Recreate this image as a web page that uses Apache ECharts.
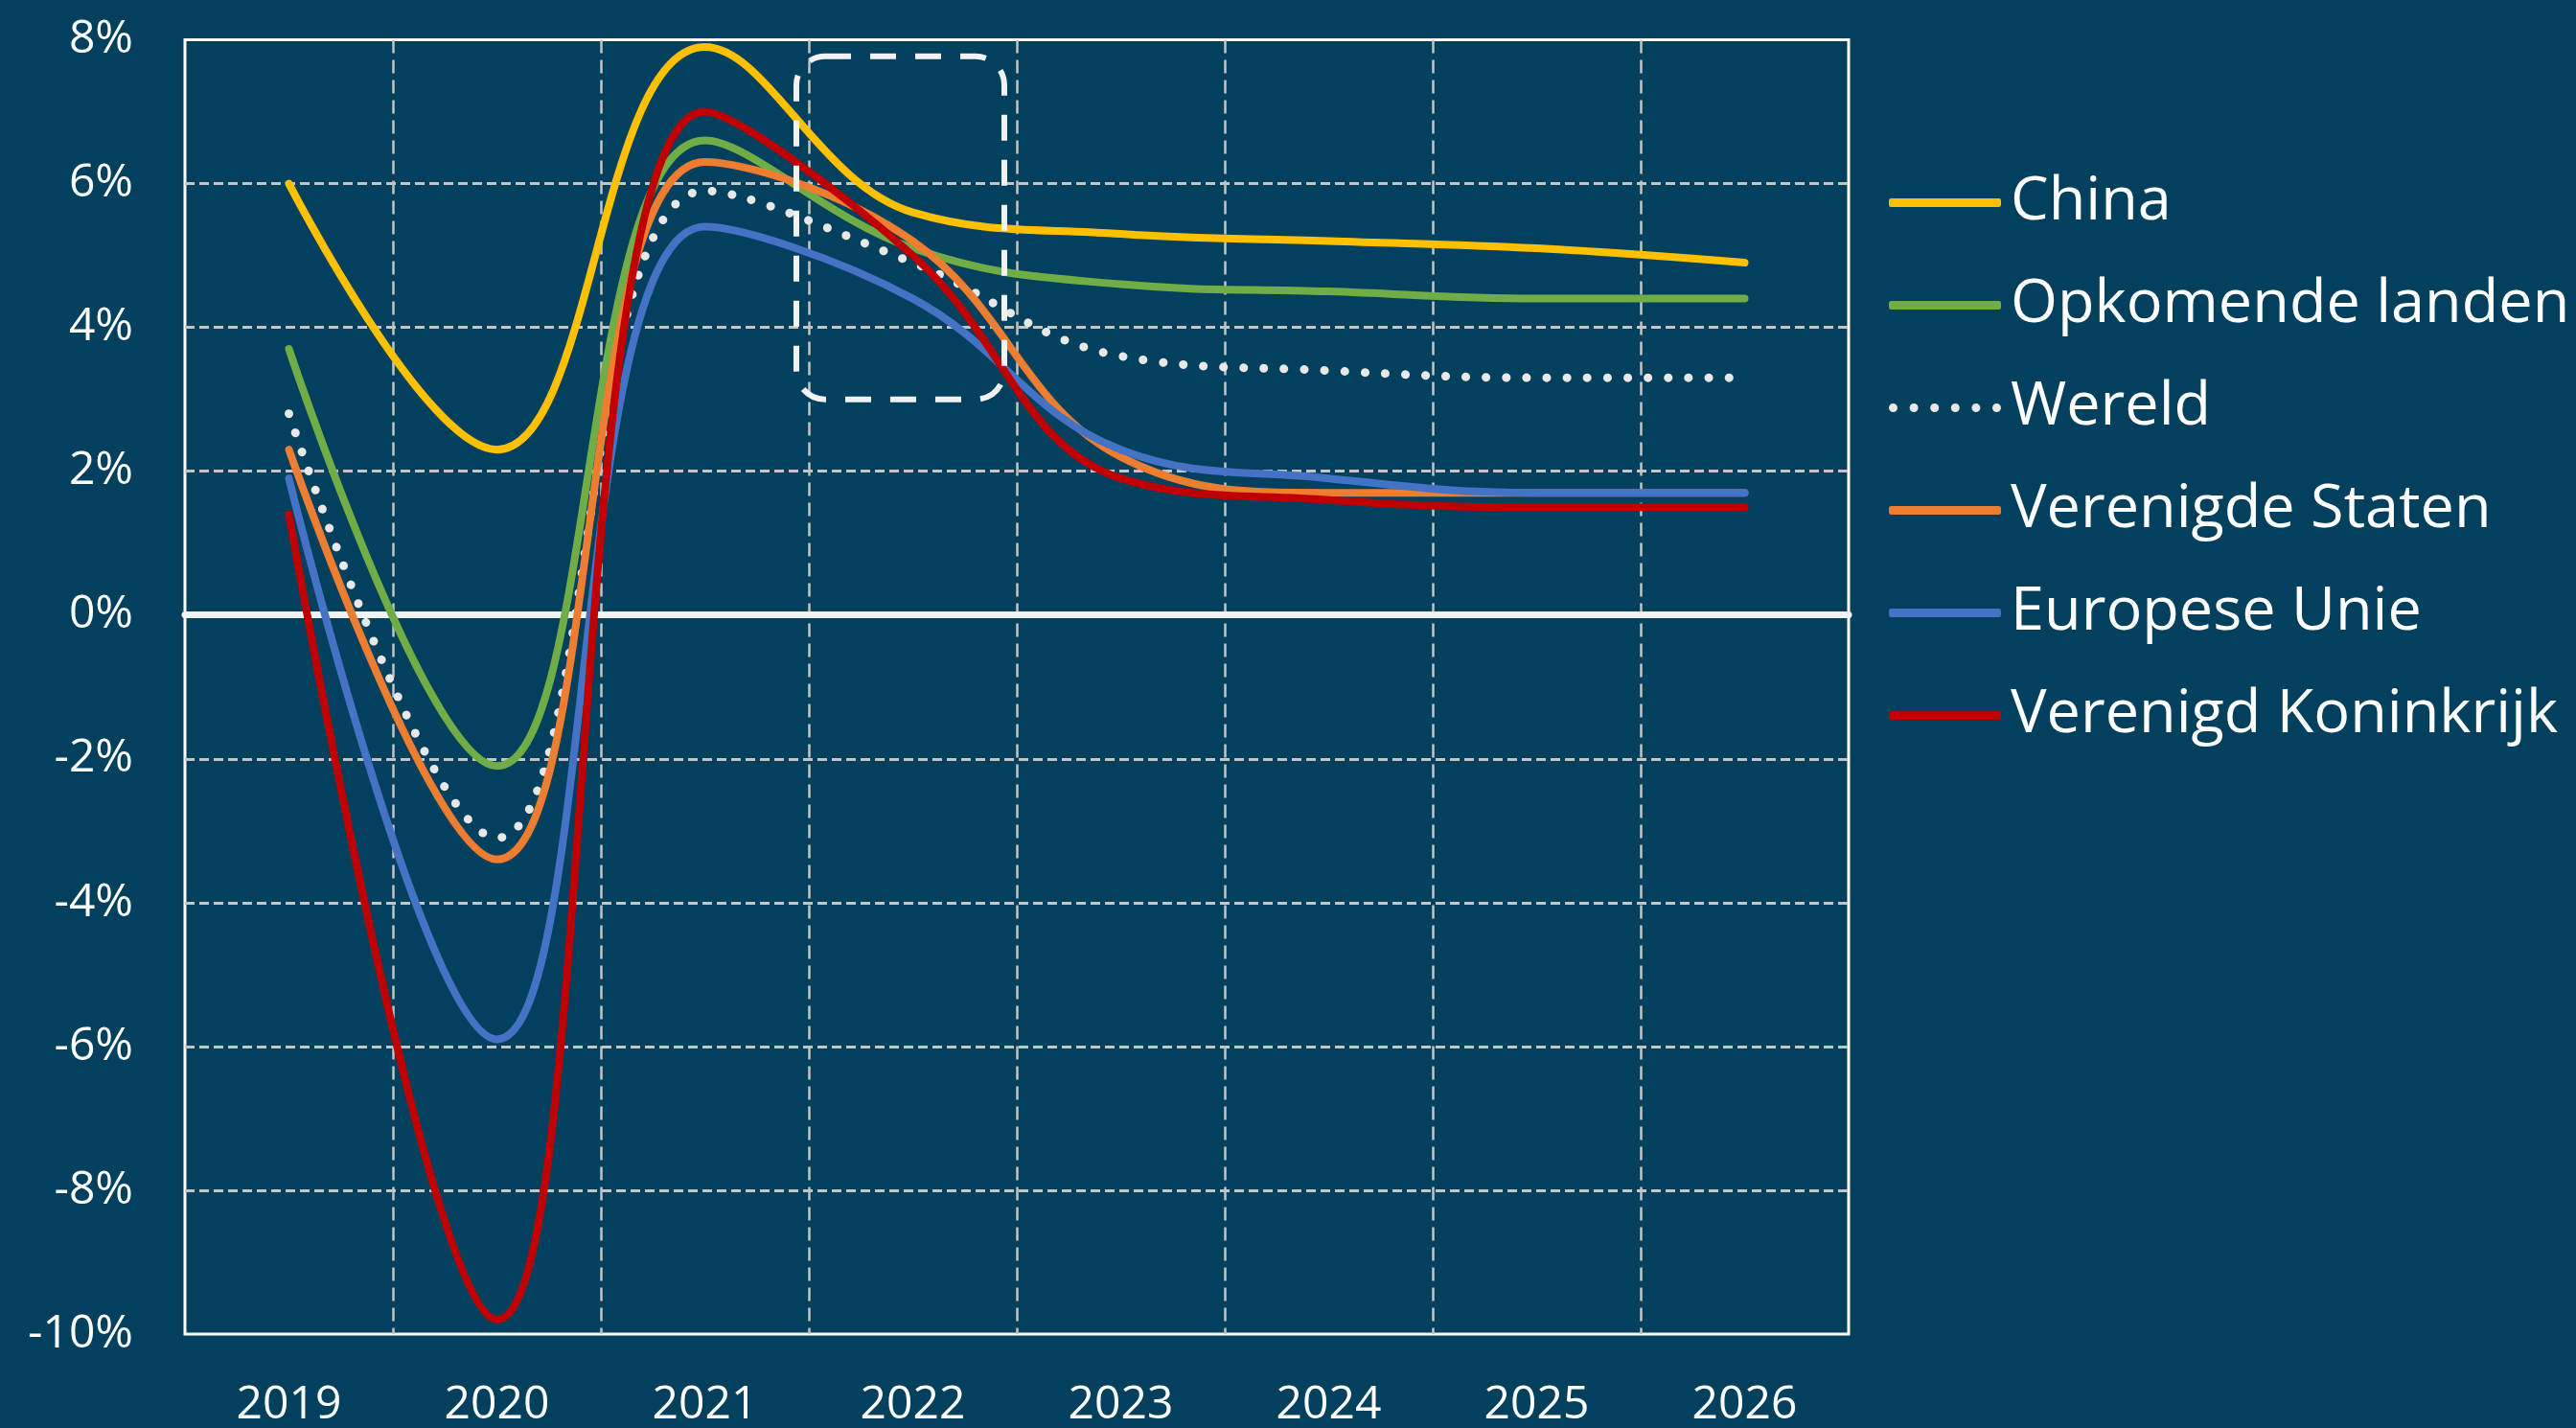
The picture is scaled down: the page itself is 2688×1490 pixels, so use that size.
<!DOCTYPE html>
<html>
<head>
<meta charset="utf-8">
<script src="https://cdn.jsdelivr.net/npm/echarts@6/dist/echarts.min.js"></script>
<style>
html,body{margin:0;padding:0;background:#02405e;}
#chart{width:2688px;height:1490px;}
</style>
</head>
<body>
<div id="chart"></div>
<script>
// ---- data (annual real GDP growth, %) ----
const years = ['2019', '2020', '2021', '2022', '2023', '2024', '2025', '2026'];
const china      = [6.0,  2.3, 7.9, 5.6, 5.3, 5.2, 5.1, 4.9];
const opkomende  = [3.7, -2.1, 6.6, 5.1, 4.6, 4.5, 4.4, 4.4];
const wereld     = [2.8, -3.1, 5.9, 4.9, 3.6, 3.4, 3.3, 3.3];
const vs         = [2.3, -3.4, 6.3, 5.2, 2.2, 1.7, 1.7, 1.7];
const eu         = [1.9, -5.9, 5.4, 4.4, 2.3, 1.9, 1.7, 1.7];
const vk         = [1.4, -9.8, 7.0, 5.0, 1.9, 1.6, 1.5, 1.5];
const seriesNames = ['China', 'Opkomende landen', 'Wereld', 'Verenigde Staten', 'Europese Unie', 'Verenigd Koninkrijk'];
const yMin = -10, yMax = 8, yStep = 2;
// highlighted region (data coordinates): from 2021 + 0.44 yr to 2022 + 0.44 yr, 3%..7.77%
const focusBox = { startYear: '2021', endYear: '2022', shift: 0.44, topValue: 7.77, bottomValue: 3.0 };

(function () {
  const FONT = 'Open Sans';
  const colors = ['#FFC000', '#70AD47', '#E8E8E8', '#ED7D31', '#4472C4', '#C00000'];
  const values = [china, opkomende, wereld, vs, eu, vk];

  // legend icons: a rounded bar, and a row of dots for the dotted series
  const dotsIcon = 'path://' + [0, 1, 2, 3, 4, 5].map(k => {
    const cx = 4.5 + k * 21.6;
    return 'M' + (cx - 4.5) + ',4.5 a4.5,4.5 0 1,0 9,0 a4.5,4.5 0 1,0 -9,0 Z';
  }).join(' ');

  const chart = echarts.init(document.getElementById('chart'), null, { renderer: 'canvas' });

  const series = values.map((arr, i) => ({
    name: seriesNames[i],
    type: 'line',
    xAxisIndex: 0,
    yAxisIndex: 0,
    data: arr,
    smooth: 0.4,
    symbol: 'none',
    z: 3,
    lineStyle: i === 2
      ? { color: colors[i], width: 9, type: [0.1, 21], cap: 'round' }
      : { color: colors[i], width: 8, cap: 'round', join: 'round' },
    itemStyle: { color: colors[i] },
    emphasis: { disabled: true }
  }));

  const option = {
    backgroundColor: '#02405e',
    animation: false,
    textStyle: { fontFamily: FONT },
    grid: {
      left: 193, top: 41.5, right: 759, bottom: 92.5,
      show: true, borderColor: '#ffffff', borderWidth: 3, backgroundColor: 'transparent'
    },
    legend: {
      orient: 'vertical',
      left: 1966,
      top: 175,
      itemWidth: 117,
      itemHeight: 9,
      itemGap: 44,
      selectedMode: false,
      data: seriesNames.map((n, i) => ({
        name: n,
        icon: i === 2 ? dotsIcon : 'roundRect',
        itemStyle: { color: colors[i], borderWidth: 0 }
      })),
      textStyle: { color: '#ffffff', fontSize: 63, fontFamily: FONT, lineHeight: 63, padding: [0, 0, 0, 5] }
    },
    xAxis: [
      {
        type: 'category',
        data: years,
        boundaryGap: true,
        axisLine: { show: false, onZero: false },
        axisTick: { show: false },
        axisLabel: { color: '#ffffff', fontSize: 48, fontFamily: FONT, margin: 50, interval: 0 },
        splitLine: {
          show: true, interval: 0, showMinLine: false, showMaxLine: false,
          lineStyle: { color: '#c4c4c4', width: 2.5, type: [14, 7] }
        }
      },
      {
        type: 'category',
        data: years,
        position: 'bottom',
        boundaryGap: true,
        axisLine: { show: true, onZero: true, lineStyle: { color: '#f2f2f2', width: 7 } },
        axisTick: { show: false },
        axisLabel: { show: false },
        splitLine: { show: false }
      }
    ],
    yAxis: {
      type: 'value',
      min: yMin, max: yMax, interval: yStep,
      axisLine: { show: false },
      axisTick: { show: false },
      axisLabel: { color: '#ffffff', fontSize: 48, fontFamily: FONT, margin: 54, formatter: '{value}%' },
      splitLine: {
        show: true, showMinLine: false, showMaxLine: false,
        lineStyle: { color: '#c4c4c4', width: 3, type: [10, 5] }
      }
    },
    series: series
  };

  chart.setOption(option);

  // dashed rounded box, positioned from data coordinates
  const xa = chart.convertToPixel({ xAxisIndex: 0 }, focusBox.startYear);
  const xb = chart.convertToPixel({ xAxisIndex: 0 }, focusBox.endYear);
  const step = xb - xa;
  const boxLeft = xa + focusBox.shift * step;
  const boxRight = xb + focusBox.shift * step;
  const boxTop = chart.convertToPixel({ yAxisIndex: 0 }, focusBox.topValue);
  const boxBottom = chart.convertToPixel({ yAxisIndex: 0 }, focusBox.bottomValue);
  chart.setOption({
    graphic: [{
      type: 'rect',
      z: 10,
      silent: true,
      shape: { x: boxLeft, y: boxTop, width: boxRight - boxLeft, height: boxBottom - boxTop, r: 30 },
      style: { fill: 'none', stroke: '#f2f2f2', lineWidth: 6, lineDash: [27, 20] }
    }]
  });
})();
</script>
</body>
</html>
